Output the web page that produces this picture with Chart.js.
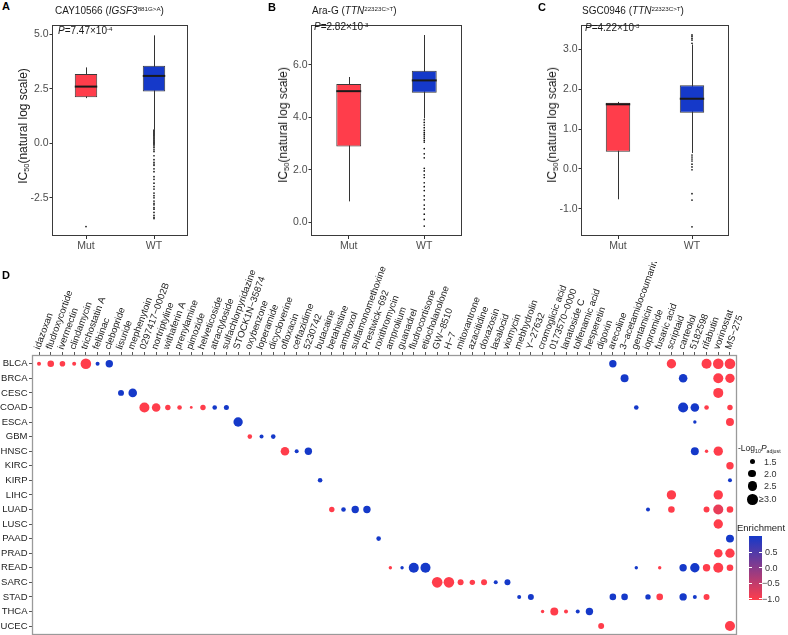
<!DOCTYPE html>
<html>
<head>
<meta charset="utf-8">
<script src="https://cdn.jsdelivr.net/npm/chart.js@4.4.0/dist/chart.umd.min.js"></script>
<style>
  body { margin: 0; background: #fff; font-family: 'Liberation Sans', Arial, Helvetica, sans-serif; }
  #wrap { position: relative; width: 788px; height: 635px; overflow: hidden; }
  canvas { position: absolute; }
  .t { position: absolute; white-space: nowrap; color: #1a1a1a; line-height: 12px; }
  .lbl { font-weight: bold; font-size: 11px; color: #000; }
  .ttl { font-size: 10px; }
  .pv { font-size: 10px; }
  .ytl { font-size: 12px; line-height: 14px; transform: translate(-50%, -50%) rotate(-90deg); }
  sup { font-size: 62%; vertical-align: 0.5em; line-height: 0; }
  sub { font-size: 62%; vertical-align: -0.3em; line-height: 0; }
</style>
</head>
<body>
<div id="wrap">
  <canvas id="cA" width="192" height="238" style="left:0;top:18px"></canvas>
  <canvas id="cB" width="206" height="238" style="left:260px;top:18px"></canvas>
  <canvas id="cC" width="213" height="238" style="left:520px;top:18px"></canvas>
  <canvas id="cD" width="788" height="380" style="left:0;top:262px"></canvas>

  <div class="t lbl" style="left:2px;top:0px">A</div>
  <div class="t ttl" style="left:55px;top:5px">CAY10566 (<i>IGSF3</i><sup>881G&gt;A</sup>)</div>
  <div class="t pv" style="left:58px;top:25px"><i>P</i>=7.47×10<sup>-4</sup></div>
  <div class="t ytl" style="left:23px;top:126px">IC<sub>50</sub>(natural log scale)</div>

  <div class="t lbl" style="left:268px;top:1px">B</div>
  <div class="t ttl" style="left:312px;top:5px">Ara-G (<i>TTN</i><sup>22323C&gt;T</sup>)</div>
  <div class="t pv" style="left:314px;top:21px"><i>P</i>=2.82×10<sup>-3</sup></div>
  <div class="t ytl" style="left:283px;top:125px">IC<sub>50</sub>(natural log scale)</div>

  <div class="t lbl" style="left:538px;top:1px">C</div>
  <div class="t ttl" style="left:582px;top:5px">SGC0946 (<i>TTN</i><sup>22323C&gt;T</sup>)</div>
  <div class="t pv" style="left:585px;top:22px"><i>P</i>=4.22×10<sup>-3</sup></div>
  <div class="t ytl" style="left:552px;top:125px">IC<sub>50</sub>(natural log scale)</div>

  <div class="t lbl" style="left:2px;top:269px">D</div>
  <div id="legend"></div>
</div>

<script>
Chart.defaults.font.family = "'Liberation Sans', Arial, Helvetica, sans-serif";

// ---------- data: box plots (A, B, C) ----------
const groups = ['Mut', 'WT'];
// [lower whisker, Q1, median, Q3, upper whisker]
const boxA = [[2.07, 2.11, 2.60, 3.18, 3.48], [0.62, 2.38, 3.09, 3.55, 4.95]];
const outA_mut = [-3.82];
const outA_wt = [0.6, 0.55, 0.5, 0.45, 0.4, 0.35, 0.3, 0.25, 0.2, 0.15, 0.1, 0.05, 0, -0.05, -0.12, -0.2, -0.3,
  -0.38, -0.57, -0.75, -0.87, -0.95, -1.01, -1.17, -1.3, -1.53, -1.65, -1.83, -1.98, -2.1, -2.28, -2.4, -2.5,
  -2.65, -2.75, -2.82, -2.95, -3.02, -3.17, -3.3, -3.39, -3.45];
const ticksA = [-2.5, 0, 2.5, 5];

const boxB = [[0.79, 2.88, 4.99, 5.26, 5.53], [3.95, 4.93, 5.40, 5.77, 7.13]];
const outB_mut = [];
const outB_wt = [3.9, 3.8, 3.7, 3.6, 3.5, 3.42, 3.35, 3.28, 3.2, 3.12, 3.05, 2.8, 2.6, 2.45, 2.05, 1.95, 1.8,
  1.7, 1.5, 1.35, 1.2, 1.0, 0.85, 0.65, 0.5, 0.3, 0.1, -0.15];
const ticksB = [0, 2, 4, 6];

const boxC = [[-0.76, 0.43, 1.62, 1.66, 1.68], [0.40, 1.41, 1.76, 2.10, 3.12]];
const outC_mut = [];
const outC_wt = [3.36, 3.32, 3.27, 3.23, 3.15, 0.35, 0.3, 0.25, 0.2, 0.12, 0.05, -0.02, -0.62, -0.78, -1.45];
const ticksC = [-1, 0, 1, 2, 3];

// ---------- data: dot plot (D) ----------
const cancers = ['BLCA', 'BRCA', 'CESC', 'COAD', 'ESCA', 'GBM', 'HNSC', 'KIRC', 'KIRP', 'LIHC', 'LUAD',
  'LUSC', 'PAAD', 'PRAD', 'READ', 'SARC', 'STAD', 'THCA', 'UCEC'];
const drugs = ['idazoxan', 'fludroxycortide', 'ivermectin', 'clindamycin', 'trichostatin A', 'felbinac',
  'clebopride', 'lisuride', 'mephenytoin', '0297417−0002B', 'nortriptyline', 'withaferin A', 'prenylamine',
  'pimozide', 'helveticoside', 'atractyloside', 'sulfachlorpyridazine', 'STOCK1N−35874', 'oxybenzone',
  'loperamide', 'dicycloverine', 'ofloxacin', 'ceftazidime', '5230742', 'butacaine', 'betahistine', 'ambroxol',
  'sulfamonomethoxine', 'Prestwick−692', 'roxithromycin', 'amprolium', 'guanadrel', 'fludrocortisone',
  'etiocholanolone', 'GW−8510', 'H−7', 'mitoxantrone', 'azacitidine', 'doxazosin', 'lasalocid', 'viomycin',
  'mebhydrolin', 'Y−27632', 'cromoglicic acid', '0173570−0000', 'lanatoside C', 'tolfenamic acid',
  'hesperetin', 'digoxin', 'arecoline', '3−acetamidocoumarin', 'gentamicin', 'iopromide', 'fusaric acid',
  'scriptaid', 'carteolol', '5182598', 'rifabutin', 'vorinostat', 'MS−275'];
// [cancer, drug index, -log10 P adjust, enrichment]
const sigDots = [
  ['BLCA', 0, 1.34, -1], ['BLCA', 1, 1.70, -1], ['BLCA', 2, 1.52, -1], ['BLCA', 3, 1.34, -1], ['BLCA', 4, 3.2, -1],
  ['BLCA', 5, 1.34, 1], ['BLCA', 6, 1.89, 1], ['BLCA', 49, 1.89, 1], ['BLCA', 54, 2.5, -1], ['BLCA', 57, 2.76, -1],
  ['BLCA', 58, 3.0, -1], ['BLCA', 59, 3.0, -1],
  ['BRCA', 50, 2.04, 1], ['BRCA', 55, 2.23, 1], ['BRCA', 58, 2.76, -1], ['BRCA', 59, 2.5, -1],
  ['CESC', 7, 1.58, 1], ['CESC', 8, 2.23, 1], ['CESC', 58, 2.76, -1],
  ['COAD', 9, 2.76, -1], ['COAD', 10, 2.23, -1], ['COAD', 11, 1.49, -1], ['COAD', 12, 1.39, -1], ['COAD', 13, 1.30, -1],
  ['COAD', 14, 1.49, -1], ['COAD', 15, 1.39, 1], ['COAD', 16, 1.44, 1], ['COAD', 51, 1.39, 1], ['COAD', 55, 2.76, 1],
  ['COAD', 56, 2.23, 1], ['COAD', 57, 1.39, -1], ['COAD', 59, 1.49, -1],
  ['ESCA', 17, 2.5, 1], ['ESCA', 56, 1.31, 1], ['ESCA', 59, 2.04, -1],
  ['GBM', 18, 1.39, -1], ['GBM', 19, 1.34, 1], ['GBM', 20, 1.39, 1],
  ['HNSC', 21, 2.23, -1], ['HNSC', 22, 1.34, 1], ['HNSC', 23, 1.89, 1], ['HNSC', 56, 2.04, 1], ['HNSC', 57, 1.31, -1],
  ['HNSC', 58, 2.5, -1],
  ['KIRC', 59, 1.89, -1],
  ['KIRP', 24, 1.39, 1], ['KIRP', 59, 1.34, 1],
  ['LIHC', 54, 2.5, -1], ['LIHC', 58, 2.5, -1],
  ['LUAD', 25, 1.49, -1], ['LUAD', 26, 1.39, 1], ['LUAD', 27, 1.89, 1], ['LUAD', 28, 1.89, 1], ['LUAD', 52, 1.34, 1],
  ['LUAD', 54, 1.70, -1], ['LUAD', 57, 1.58, -1], ['LUAD', 58, 2.76, -0.8], ['LUAD', 59, 1.70, -1],
  ['LUSC', 58, 2.5, -1],
  ['PAAD', 29, 1.39, 1], ['PAAD', 59, 2.04, 1],
  ['PRAD', 58, 2.23, -1], ['PRAD', 59, 2.5, -1],
  ['READ', 30, 1.31, -1], ['READ', 31, 1.31, 1], ['READ', 32, 2.76, 1], ['READ', 33, 2.76, 1], ['READ', 51, 1.31, 1],
  ['READ', 53, 1.31, -1], ['READ', 55, 1.89, 1], ['READ', 56, 2.5, 1], ['READ', 57, 1.89, -1], ['READ', 58, 2.76, -1],
  ['READ', 59, 1.70, -1],
  ['SARC', 34, 3.0, -1], ['SARC', 35, 3.0, -1], ['SARC', 36, 1.58, -1], ['SARC', 37, 1.49, -1], ['SARC', 38, 1.58, -1],
  ['SARC', 39, 1.34, 1], ['SARC', 40, 1.58, 1],
  ['STAD', 41, 1.34, 1], ['STAD', 42, 1.58, 1], ['STAD', 49, 1.70, 1], ['STAD', 50, 1.70, 1], ['STAD', 52, 1.49, 1],
  ['STAD', 53, 1.70, -1], ['STAD', 55, 1.89, 1], ['STAD', 56, 1.34, 1], ['STAD', 57, 1.58, -1],
  ['THCA', 43, 1.31, -1], ['THCA', 44, 2.04, -1], ['THCA', 45, 1.34, -1], ['THCA', 46, 1.34, 1], ['THCA', 47, 1.89, 1],
  ['UCEC', 48, 1.58, -1], ['UCEC', 59, 2.76, -1]
];
const sizeKeys = [1.5, 2.0, 2.5, 3.0];
const enrichTicks = [0.5, 0.0, -0.5, -1.0];

// ---------- helpers ----------
const RED = [255, 61, 75], BLUE = [21, 57, 201];
const rgb = c => `rgb(${c[0]},${c[1]},${c[2]})`;
function colOf(e) {
  const t = (Math.max(-1, Math.min(1, e)) + 1) / 2;
  return rgb(RED.map((v, i) => Math.round(v + (BLUE[i] - v) * t)));
}
// area-like size scale, capped at 3.0
function rOf(v) {
  const c = Math.max(1.3, Math.min(3, v));
  return 1.4 + 3.9 * Math.sqrt((c - 1.3) / 1.7);
}

function frame(color, w) {
  return {
    id: 'frame',
    afterDatasetsDraw(chart) {
      const a = chart.chartArea, c = chart.ctx;
      c.save();
      c.strokeStyle = color;
      c.lineWidth = w;
      c.strokeRect(Math.round(a.left) + 0.5, Math.round(a.top) + 0.5,
        Math.round(a.right - a.left) - 1, Math.round(a.bottom - a.top) - 1);
      c.restore();
    }
  };
}

function boxParts(boxes) {
  return {
    id: 'boxParts',
    beforeDatasetsDraw(chart) {
      const { ctx, scales: { x, y } } = chart;
      ctx.save();
      ctx.strokeStyle = '#333';
      ctx.lineWidth = 1;
      boxes.forEach((b, i) => {
        const px = Math.round(x.getPixelForValue(i)) + 0.5;
        ctx.beginPath();
        ctx.moveTo(px, y.getPixelForValue(b[0]));
        ctx.lineTo(px, y.getPixelForValue(b[4]));
        ctx.stroke();
      });
      ctx.restore();
    },
    afterDatasetsDraw(chart) {
      const { ctx, scales: { y } } = chart;
      const bars = chart.getDatasetMeta(0).data;
      ctx.save();
      ctx.strokeStyle = '#1a1a1a';
      ctx.lineWidth = 2;
      bars.forEach((bar, i) => {
        const py = y.getPixelForValue(boxes[i][2]);
        ctx.beginPath();
        ctx.moveTo(bar.x - bar.width / 2, py);
        ctx.lineTo(bar.x + bar.width / 2, py);
        ctx.stroke();
      });
      ctx.restore();
    }
  };
}

function boxChart(id, boxes, outMut, outWt, yMin, yMax, yTicks, yW) {
  const outs = outMut.map(v => ({ x: 'Mut', y: v })).concat(outWt.map(v => ({ x: 'WT', y: v })));
  return new Chart(document.getElementById(id), {
    type: 'bar',
    data: {
      labels: groups,
      datasets: [
        {
          data: boxes.map(b => [b[1], b[3]]),
          backgroundColor: [rgb(RED), rgb(BLUE)],
          borderColor: '#3a3a3a',
          borderWidth: 1,
          borderSkipped: false,
          barPercentage: 0.33,
          categoryPercentage: 1
        },
        {
          type: 'scatter',
          data: outs,
          pointRadius: 0.85,
          pointBackgroundColor: '#111',
          pointBorderWidth: 0
        }
      ]
    },
    options: {
      responsive: false,
      animation: false,
      layout: { padding: { top: 1, right: 3, left: 0, bottom: 0 } },
      plugins: { legend: { display: false }, tooltip: { enabled: false } },
      scales: {
        x: {
          offset: true,
          grid: { offset: false, drawOnChartArea: false, tickLength: 3, color: '#333' },
          border: { display: false },
          ticks: { color: '#4d4d4d', font: { size: 10.5 }, padding: 1 },
          afterFit: s => { s.height = 20; }
        },
        y: {
          min: yMin,
          max: yMax,
          grid: { drawOnChartArea: false, tickLength: 2.5, color: '#333' },
          border: { display: false },
          ticks: { color: '#4d4d4d', font: { size: 10.5 }, padding: 1, callback: v => v.toFixed(1) },
          afterBuildTicks: s => { s.ticks = yTicks.map(v => ({ value: v })); },
          afterFit: s => { s.width = yW; }
        }
      }
    },
    plugins: [boxParts(boxes), frame('#3a3a3a', 1)]
  });
}

boxChart('cA', boxA, outA_mut, outA_wt, -4.25, 5.41, ticksA, 52);
boxChart('cB', boxB, outB_mut, outB_wt, -0.53, 7.5, ticksB, 51);
boxChart('cC', boxC, outC_mut, outC_wt, -1.68, 3.6, ticksC, 61);

new Chart(document.getElementById('cD'), {
  type: 'bubble',
  data: {
    datasets: [{
      data: sigDots.map(d => ({ x: d[1], y: cancers.indexOf(d[0]), r: rOf(d[2]) })),
      backgroundColor: sigDots.map(d => colOf(d[3])),
      borderWidth: 0
    }]
  },
  options: {
    responsive: false,
    animation: false,
    layout: { padding: { top: 0, right: 51, bottom: 1, left: 0 } },
    plugins: { legend: { display: false }, tooltip: { enabled: false } },
    scales: {
      x: {
        type: 'linear',
        position: 'top',
        min: -0.6,
        max: 59.6,
        grid: { drawOnChartArea: false, tickLength: 3, color: '#555' },
        border: { display: false },
        ticks: { autoSkip: false, minRotation: 70, maxRotation: 70, labelOffset: 9, color: '#222',
          font: { size: 9.5 }, padding: 1, callback: v => drugs[v] },
        afterBuildTicks: s => { s.ticks = drugs.map((d, i) => ({ value: i })); },
        afterFit: s => { s.height = 93; }
      },
      y: {
        type: 'linear',
        reverse: true,
        min: -0.6,
        max: 18.6,
        grid: { drawOnChartArea: false, tickLength: 3, color: '#555' },
        border: { display: false },
        ticks: { autoSkip: false, color: '#222', font: { size: 9.5 }, padding: 1.5, callback: v => cancers[v] },
        afterBuildTicks: s => { s.ticks = cancers.map((c, i) => ({ value: i })); },
        afterFit: s => { s.width = 32; }
      }
    }
  },
  plugins: [frame('#9a9a9a', 1.3)]
});

// ---------- legends for D ----------
const lg = document.getElementById('legend');
function add(html, style, cls) {
  const d = document.createElement('div');
  d.className = 't' + (cls ? ' ' + cls : '');
  d.innerHTML = html;
  d.style.cssText += style;
  lg.appendChild(d);
  return d;
}
add('-Log<sub>10</sub><i>P</i><sub>adjust</sub>', 'left:738px;top:442px;font-size:8.5px;');
const keyY = [461.7, 473.5, 486, 499.3];
sizeKeys.forEach((v, i) => {
  const r = rOf(v);
  add('', `left:${752.3 - r}px;top:${keyY[i] - r}px;width:${2 * r}px;height:${2 * r}px;border-radius:50%;background:#000;`);
  add((i === sizeKeys.length - 1 ? '≥' : '') + v.toFixed(1),
    `left:${i === sizeKeys.length - 1 ? 759 : 764}px;top:${keyY[i] - 6}px;font-size:9px;color:#333;`);
});
add('Enrichment', 'left:737px;top:522px;font-size:9.5px;');
const barTop = 535.7, barBot = 600, eTop = 1.03, eBot = -1.04;
const eY = e => barTop + (eTop - e) / (eTop - eBot) * (barBot - barTop);
add('', `left:749px;top:${barTop}px;width:13px;height:${barBot - barTop}px;` +
  `background:linear-gradient(to bottom, ${colOf(1)}, ${colOf(0)}, ${colOf(-1)});`);
enrichTicks.forEach(e => {
  const y = eY(e);
  add('', `left:749px;top:${y - 0.5}px;width:3px;height:1px;background:#fff;`);
  add('', `left:759px;top:${y - 0.5}px;width:3px;height:1px;background:#fff;`);
  add((e < 0 ? '−' : '') + Math.abs(e).toFixed(1), `left:${e < 0 ? 762 : 765}px;top:${y - 6}px;font-size:9px;color:#333;`);
});
</script>
</body>
</html>
